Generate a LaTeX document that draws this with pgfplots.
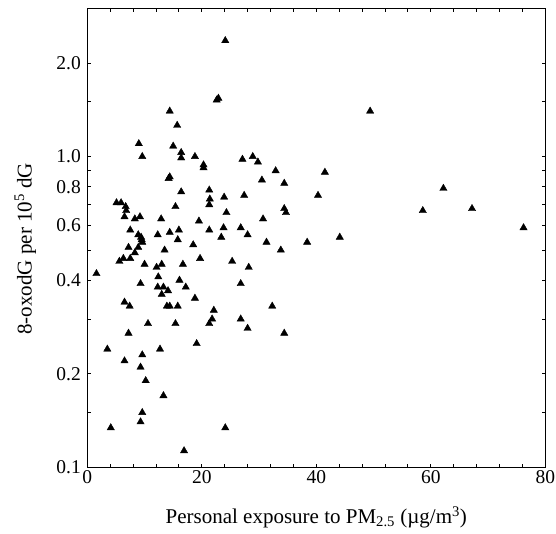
\documentclass[border=0pt]{standalone}
\usepackage{fontspec}
\setmainfont{Liberation Serif}
\usepackage{pgfplots}
\pgfplotsset{compat=1.18}
\usepackage{pgfplotstable}
\pgfplotstableread{
x y
24.1 2.36
22.6 1.52
22.9 1.54
14.4 1.40
15.7 1.26
49.4 1.40
9.0 1.10
9.6 1.00
15.0 1.08
16.4 1.03
16.4 0.99
18.8 1.00
20.3 0.94
20.3 0.92
27.1 0.98
28.9 1.00
29.8 0.96
32.9 0.90
41.5 0.89
14.4 0.86
14.2 0.85
16.4 0.77
21.3 0.78
21.4 0.73
21.3 0.70
23.9 0.74
27.4 0.75
30.5 0.84
34.4 0.82
40.3 0.75
5.1 0.71
5.9 0.71
6.7 0.69
6.8 0.67
6.5 0.64
8.3 0.63
9.2 0.64
12.9 0.63
15.4 0.69
19.5 0.62
24.3 0.66
30.7 0.63
34.4 0.68
34.7 0.66
7.5 0.58
8.9 0.56
9.4 0.55
9.5 0.54
9.6 0.53
12.3 0.56
14.4 0.57
16.0 0.58
15.8 0.54
21.3 0.58
23.8 0.59
23.4 0.55
26.8 0.59
28.0 0.56
31.3 0.53
18.5 0.52
33.8 0.50
38.4 0.53
44.1 0.55
8.9 0.51
8.3 0.49
7.2 0.51
7.5 0.47
6.3 0.47
5.6 0.46
13.5 0.50
10.0 0.45
12.1 0.44
13.0 0.45
16.7 0.45
19.7 0.47
25.3 0.46
28.2 0.44
1.6 0.42
12.4 0.41
16.1 0.40
9.3 0.39
12.3 0.38
13.3 0.38
13.0 0.36
14.1 0.37
17.2 0.38
26.8 0.39
18.8 0.35
6.5 0.34
7.4 0.33
13.9 0.33
14.4 0.33
15.8 0.33
32.3 0.33
10.6 0.29
15.4 0.29
22.1 0.32
21.8 0.30
21.3 0.29
26.8 0.30
28.0 0.28
34.4 0.27
7.2 0.27
3.5 0.24
9.6 0.23
12.7 0.24
19.1 0.25
6.5 0.22
9.3 0.21
10.2 0.19
13.3 0.17
9.6 0.15
9.3 0.14
4.1 0.134
24.1 0.134
16.9 0.113
62.2 0.79
58.6 0.67
67.2 0.68
76.2 0.59
}\datatable
\begin{document}
\begin{tikzpicture}
\begin{axis}[
  at={(87.3pt,66.7pt)}, anchor=south west,
  scale only axis, width=458pt, height=459pt,
  xmin=0, xmax=80, ymode=log, ymin=0.1, ymax=3,
  xtick={0,20,40,60,80}, xticklabels={0,20,40,60,80},
  minor x tick num=4,
  ytick={0.1,0.2,0.4,0.6,0.8,1.0,2.0},
  yticklabels={0.1,0.2,0.4,0.6,0.8,1.0,2.0},
  minor ytick={0.15,0.3,0.5,0.7,0.9,1.5},
  tick align=inside,
  major tick length=3.5pt, minor tick length=3.5pt,
  tick style={black, line width=0.9pt},
  axis line style={line width=1.3pt},
  every tick label/.append style={font=\fontsize{19.5}{22}\selectfont},
  yticklabel style={xshift=-3pt},
  xlabel={Personal exposure to PM\textsubscript{2.5} (µg/m\textsuperscript{3})},
  ylabel={8-oxodG per 10\textsuperscript{5} dG},
  label style={font=\fontsize{21}{24}\selectfont},
  xlabel style={at={(axis description cs:0.5,0)}, anchor=center, yshift=-50pt},
  ylabel style={at={(axis description cs:-0.1354,0.476)}, anchor=center},
]
\addplot[only marks, mark=triangle*, mark size=4.2pt, black] table[x=x,y=y] {\datatable};
\end{axis}
\pgfresetboundingbox
\path[use as bounding box] (0,0) rectangle (556pt,534pt);
\end{tikzpicture}
\end{document}
